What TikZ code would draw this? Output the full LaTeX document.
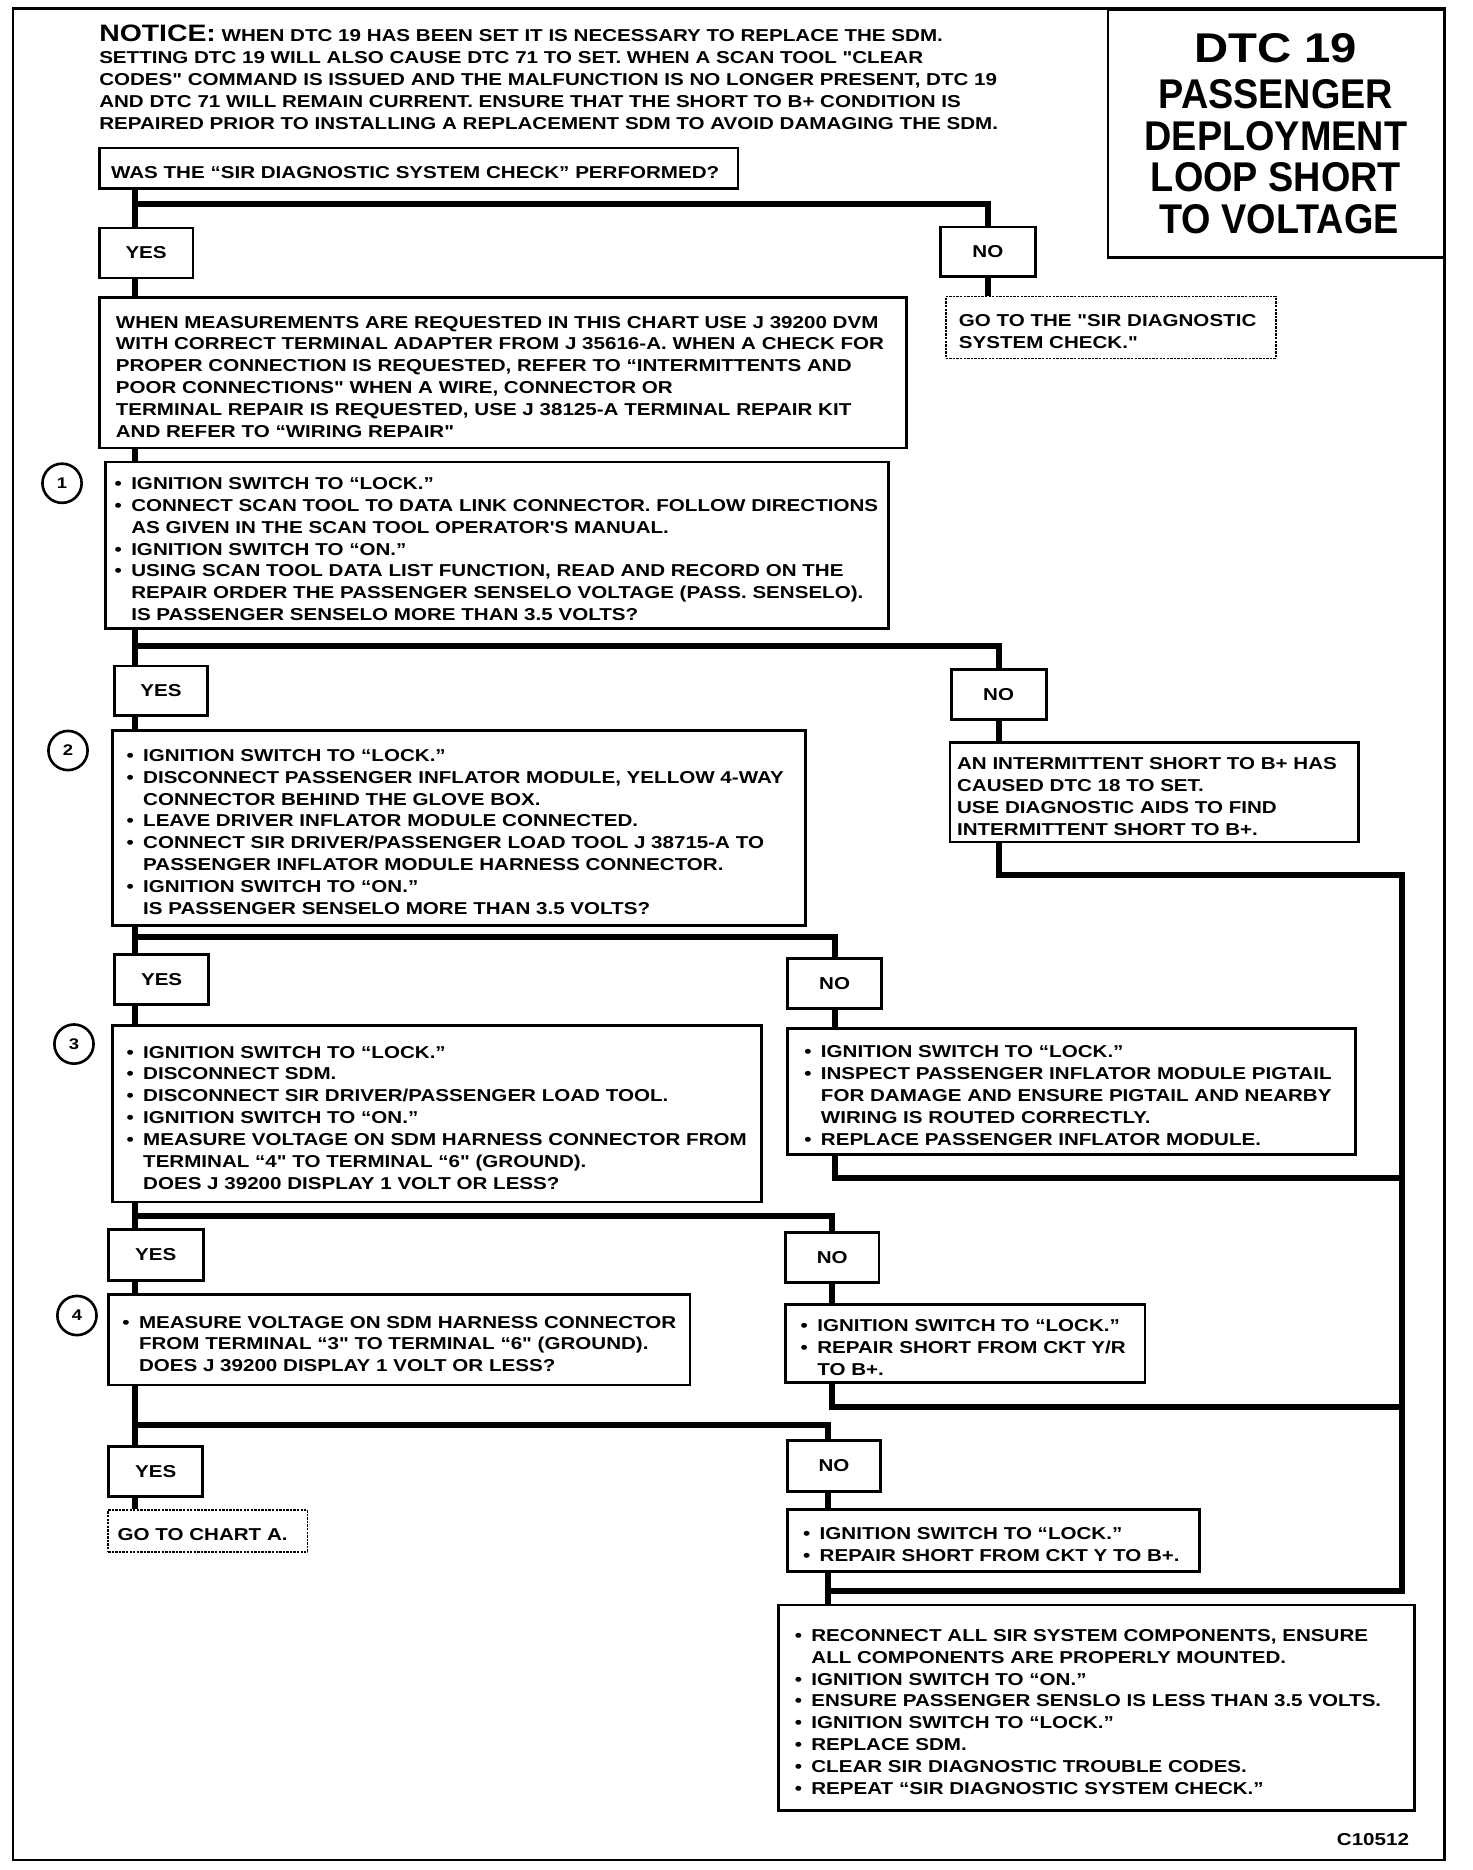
\documentclass[tikz,border=0pt]{standalone}
\usepackage{graphicx}
\usepackage{fontspec}
\newfontfamily\bodyfont{Liberation Sans}[FakeStretch=1.195]
\newfontfamily\titlefont{Liberation Sans}[FakeStretch=0.91]
\newcommand\itmark{\makebox[14pt][l]{\textbullet}}
\newcommand\itcont{\hspace*{14pt}}
\tikzset{
  body/.style={font=\bodyfont\bfseries\fontsize{14.5}{18.4}\selectfont},
  box/.style={body, draw, line width=2.3pt, anchor=north west, inner ysep=0pt, align=left,
              execute at begin node={\rule{0pt}{17pt}}},
  onebox/.style={box, execute at begin node={\rule{0pt}{13pt}}},
  lbl/.style={body, draw, line width=2.3pt, anchor=north west, inner sep=0pt, align=center},
  dbox/.style={line width=1.3pt, dash pattern=on 2pt off 1pt},
  conn/.style={line width=5pt, line join=miter},
  circ/.style={body, draw, circle, line width=2.2pt, minimum size=33pt, inner sep=0pt, font=\bodyfont\bfseries\fontsize{13}{13}\selectfont}
}
\begin{document}
\begin{tikzpicture}[x=1.005pt,y=-1.005pt]
\useasboundingbox (0,0) rectangle (1233.8,1567.2);
% outer frame
\draw[line width=2pt] (11,7) rectangle (1210.5,1559);
% title
\node[draw, line width=2pt, anchor=north west, minimum width=283pt, minimum height=209pt, inner sep=0pt, align=center,
      font=\titlefont\bfseries\fontsize{35}{35}\selectfont] (title) at (927.5,7)
  {\hspace*{-5pt}\scalebox{1.25}[1]{DTC 19}\hspace*{-5pt}\\[4pt]PASSENGER\hspace*{-5pt}\\DEPLOYMENT\hspace*{-5pt}\\LOOP SHORT\hspace*{-5pt}\\TO VOLTAGE\hspace*{-5pt}};
% notice
\node[body, anchor=north west, inner sep=0pt, align=left] (notice) at (83,21)
  {\mbox{{\fontsize{20}{18.4}\selectfont NOTICE:} WHEN DTC 19 HAS BEEN SET IT IS NECESSARY TO REPLACE THE SDM.}\\
   \mbox{SETTING DTC 19 WILL ALSO CAUSE DTC 71 TO SET. WHEN A SCAN TOOL "CLEAR}\\
   \mbox{CODES" COMMAND IS ISSUED AND THE MALFUNCTION IS NO LONGER PRESENT, DTC 19}\\
   \mbox{AND DTC 71 WILL REMAIN CURRENT. ENSURE THAT THE SHORT TO B+ CONDITION IS}\\
   \mbox{REPAIRED PRIOR TO INSTALLING A REPLACEMENT SDM TO AVOID DAMAGING THE SDM.}};
% boxes
\node[onebox, minimum width=538pt, minimum height=34pt, inner xsep=10pt, text width=518pt] (was) at (82,123)
  {\mbox{WAS THE “SIR DIAGNOSTIC SYSTEM CHECK” PERFORMED?}};
\node[lbl, minimum width=79pt, minimum height=42pt] (yes1) at (82,190) {YES};
\node[lbl, minimum width=80pt, minimum height=42pt] (no1) at (787,189) {NO};
\node[box, dbox, minimum width=278pt, minimum height=52pt, inner xsep=11pt, text width=256pt] (goto1) at (792,248)
  {\mbox{GO TO THE "SIR DIAGNOSTIC}\\\mbox{SYSTEM CHECK."}};
\node[box, minimum width=680pt, minimum height=127pt, inner xsep=14pt, text width=652pt] (when) at (82,248)
  {\mbox{WHEN MEASUREMENTS ARE REQUESTED IN THIS CHART USE J 39200 DVM}\\
   \mbox{WITH CORRECT TERMINAL ADAPTER FROM J 35616-A. WHEN A CHECK FOR}\\
   \mbox{PROPER CONNECTION IS REQUESTED, REFER TO “INTERMITTENTS AND}\\
   \mbox{POOR CONNECTIONS" WHEN A WIRE, CONNECTOR OR}\\
   \mbox{TERMINAL REPAIR IS REQUESTED, USE J 38125-A TERMINAL REPAIR KIT}\\
   \mbox{AND REFER TO “WIRING REPAIR"}};
\node[box, minimum width=660pt, minimum height=140pt, inner xsep=8pt, text width=644pt] (b1) at (87,386)
  {\mbox{\itmark IGNITION SWITCH TO “LOCK.”}\\
   \mbox{\itmark CONNECT SCAN TOOL TO DATA LINK CONNECTOR. FOLLOW DIRECTIONS}\\
   \mbox{\itcont AS GIVEN IN THE SCAN TOOL OPERATOR'S MANUAL.}\\
   \mbox{\itmark IGNITION SWITCH TO “ON.”}\\
   \mbox{\itmark USING SCAN TOOL DATA LIST FUNCTION, READ AND RECORD ON THE}\\
   \mbox{\itcont REPAIR ORDER THE PASSENGER SENSELO VOLTAGE (PASS. SENSELO).}\\
   \mbox{\itcont IS PASSENGER SENSELO MORE THAN 3.5 VOLTS?}};
\node[circ] (c1) at (52,405) {1};
\node[lbl, minimum width=78pt, minimum height=42pt] (yes2) at (95,557) {YES};
\node[lbl, minimum width=80pt, minimum height=42pt] (no2) at (796,560) {NO};
\node[box, minimum width=344pt, minimum height=84pt, inner xsep=6pt, text width=332pt] (inter) at (795,621)
  {\mbox{AN INTERMITTENT SHORT TO B+ HAS}\\
   \mbox{CAUSED DTC 18 TO SET.}\\
   \mbox{USE DIAGNOSTIC AIDS TO FIND}\\
   \mbox{INTERMITTENT SHORT TO B+.}};
\node[box, minimum width=584pt, minimum height=164pt, inner xsep=12pt, text width=560pt] (b2) at (93,611)
  {\mbox{\itmark IGNITION SWITCH TO “LOCK.”}\\
   \mbox{\itmark DISCONNECT PASSENGER INFLATOR MODULE, YELLOW 4-WAY}\\
   \mbox{\itcont CONNECTOR BEHIND THE GLOVE BOX.}\\
   \mbox{\itmark LEAVE DRIVER INFLATOR MODULE CONNECTED.}\\
   \mbox{\itmark CONNECT SIR DRIVER/PASSENGER LOAD TOOL J 38715-A TO}\\
   \mbox{\itcont PASSENGER INFLATOR MODULE HARNESS CONNECTOR.}\\
   \mbox{\itmark IGNITION SWITCH TO “ON.”}\\
   \mbox{\itcont IS PASSENGER SENSELO MORE THAN 3.5 VOLTS?}};
\node[circ] (c2) at (57,629) {2};
\node[lbl, minimum width=79pt, minimum height=42pt] (yes3) at (95,799) {YES};
\node[lbl, minimum width=79pt, minimum height=42pt] (no3) at (659,802) {NO};
\node[box, minimum width=547pt, minimum height=149pt, inner xsep=12pt, text width=523pt] (b3) at (93,858)
  {\mbox{\itmark IGNITION SWITCH TO “LOCK.”}\\
   \mbox{\itmark DISCONNECT SDM.}\\
   \mbox{\itmark DISCONNECT SIR DRIVER/PASSENGER LOAD TOOL.}\\
   \mbox{\itmark IGNITION SWITCH TO “ON.”}\\
   \mbox{\itmark MEASURE VOLTAGE ON SDM HARNESS CONNECTOR FROM}\\
   \mbox{\itcont TERMINAL “4" TO TERMINAL “6" (GROUND).}\\
   \mbox{\itcont DOES J 39200 DISPLAY 1 VOLT OR LESS?}};
\node[circ] (c3) at (62,875) {3};
\node[box, minimum width=478pt, minimum height=106pt, inner xsep=14pt, text width=450pt] (n3) at (659,861)
  {\mbox{\itmark IGNITION SWITCH TO “LOCK.”}\\
   \mbox{\itmark INSPECT PASSENGER INFLATOR MODULE PIGTAIL}\\
   \mbox{\itcont FOR DAMAGE AND ENSURE PIGTAIL AND NEARBY}\\
   \mbox{\itcont WIRING IS ROUTED CORRECTLY.}\\
   \mbox{\itmark REPLACE PASSENGER INFLATOR MODULE.}};
\node[lbl, minimum width=80pt, minimum height=43pt] (yes4) at (89.5,1029) {YES};
\node[lbl, minimum width=79pt, minimum height=42pt] (no4) at (657,1032) {NO};
\node[box, minimum width=490pt, minimum height=76pt, inner xsep=12pt, text width=466pt] (b4) at (89.5,1084)
  {\mbox{\itmark MEASURE VOLTAGE ON SDM HARNESS CONNECTOR}\\
   \mbox{\itcont FROM TERMINAL “3" TO TERMINAL “6" (GROUND).}\\
   \mbox{\itcont DOES J 39200 DISPLAY 1 VOLT OR LESS?}};
\node[circ] (c4) at (64.5,1102.5) {4};
\node[box, minimum width=303pt, minimum height=66pt, inner xsep=13pt, text width=277pt] (n4) at (657,1092)
  {\mbox{\itmark IGNITION SWITCH TO “LOCK.”}\\
   \mbox{\itmark REPAIR SHORT FROM CKT Y/R}\\
   \mbox{\itcont TO B+.}};
\node[lbl, minimum width=79pt, minimum height=42pt] (yes5) at (90,1211) {YES};
\node[lbl, minimum width=78pt, minimum height=43pt] (no5) at (659,1206) {NO};
\node[onebox, dbox, minimum width=168pt, minimum height=35pt, inner xsep=8pt, text width=152pt] (gotoa) at (90,1265)
  {\mbox{GO TO CHART A.}};
\node[box, minimum width=347pt, minimum height=52pt, inner xsep=13pt, text width=321pt] (n5) at (659,1264)
  {\mbox{\itmark IGNITION SWITCH TO “LOCK.”}\\
   \mbox{\itmark REPAIR SHORT FROM CKT Y TO B+.}};
\node[box, minimum width=536pt, minimum height=173pt, inner xsep=14pt, text width=508pt] (fin) at (651,1344)
  {\mbox{\itmark RECONNECT ALL SIR SYSTEM COMPONENTS, ENSURE}\\
   \mbox{\itcont ALL COMPONENTS ARE PROPERLY MOUNTED.}\\
   \mbox{\itmark IGNITION SWITCH TO “ON.”}\\
   \mbox{\itmark ENSURE PASSENGER SENSLO IS LESS THAN 3.5 VOLTS.}\\
   \mbox{\itmark IGNITION SWITCH TO “LOCK.”}\\
   \mbox{\itmark REPLACE SDM.}\\
   \mbox{\itmark CLEAR SIR DIAGNOSTIC TROUBLE CODES.}\\
   \mbox{\itmark REPEAT “SIR DIAGNOSTIC SYSTEM CHECK.”}};
\node[body, anchor=east, inner sep=0pt] (code) at (1181,1542) {C10512};
% connectors
\coordinate (tx) at (113.5,0);
\coordinate (j1) at (113.5,171);
\coordinate (j2) at (113.5,541);
\coordinate (j4) at (113.5,785);
\coordinate (j5) at (113.5,1019);
\coordinate (j6) at (113.5,1194);
\coordinate (r1) at (1175,733);
\coordinate (r2) at (1175,987);
\coordinate (r3) at (1175,1179);
\coordinate (r4) at (1175,1333);
\coordinate (mrg) at (694,1333);
\draw[conn] (was.south -| tx) -- (yes1.north -| tx);
\draw[conn] (j1) -| (no1.north);
\draw[conn] (yes1.south -| tx) -- (when.north -| tx);
\draw[conn] (no1.south) -- (no1.south |- goto1.north);
\draw[conn] (when.south -| tx) -- (b1.north -| tx);
\draw[conn] (b1.south -| tx) -- (yes2.north -| tx);
\draw[conn] (j2) -| (no2.north);
\draw[conn] (yes2.south -| tx) -- (b2.north -| tx);
\draw[conn] (no2.south) -- (no2.south |- inter.north);
\draw[conn] (no2.south |- inter.south) |- (r1) -- (r4) -- (mrg);
\draw[conn] (b2.south -| tx) -- (yes3.north -| tx);
\draw[conn] (j4) -| (no3.north);
\draw[conn] (yes3.south -| tx) -- (b3.north -| tx);
\draw[conn] (no3.south) -- (no3.south |- n3.north);
\draw[conn] (no3.south |- n3.south) |- (r2);
\draw[conn] (b3.south -| tx) -- (yes4.north -| tx);
\draw[conn] (j5) -| (no4.north);
\draw[conn] (yes4.south -| tx) -- (b4.north -| tx);
\draw[conn] (no4.south) -- (no4.south |- n4.north);
\draw[conn] (no4.south |- n4.south) |- (r3);
\draw[conn] (b4.south -| tx) -- (yes5.north -| tx);
\draw[conn] (j6) -| (no5.north -| mrg);
\draw[conn] (yes5.south -| tx) -- (gotoa.north -| tx);
\draw[conn] (no5.south -| mrg) -- (n5.north -| mrg);
\draw[conn] (n5.south -| mrg) -- (fin.north -| mrg);
\end{tikzpicture}
\end{document}
